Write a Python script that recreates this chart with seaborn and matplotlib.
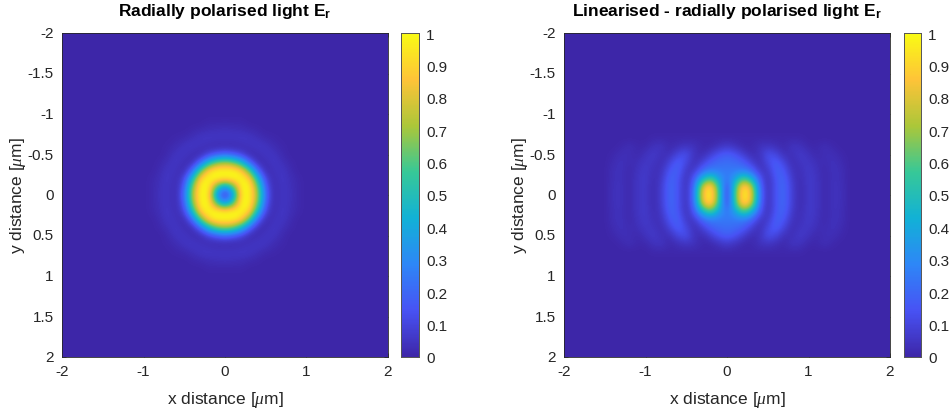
import numpy as np
import matplotlib
matplotlib.use("Agg")
import matplotlib.pyplot as plt
from matplotlib.colors import LinearSegmentedColormap
import seaborn as sns

titles = ["Radially polarised light E$_{\\mathbf{r}}$",
          "Linearised - radially polarised light E$_{\\mathbf{r}}$"]
xlabel = "x distance [$\\mu$m]"
ylabel = "y distance [$\\mu$m]"
x_ticks = [-2, -1, 0, 1, 2]
y_ticks = [-2, -1.5, -1, -0.5, 0, 0.5, 1, 1.5, 2]
x_labels = ["-2", "-1", "0", "1", "2"]
y_labels = ["-2", "-1.5", "-1", "-0.5", "0", "0.5", "1", "1.5", "2"]
c_ticks = [0, .1, .2, .3, .4, .5, .6, .7, .8, .9, 1]
c_labels = ["0", "0.1", "0.2", "0.3", "0.4", "0.5", "0.6", "0.7", "0.8", "0.9", "1"]
grid_step = 0.1

# One quadrant of each field (rows: y = 0, 0.1, ...; columns: x = 0, 0.1, ...)
radial_quadrant = [
    [.02, .30, .97, 1.0, .72, .20, .01, .055, .04, .01, 0, 0],
    [.30, .58, 1.0, 1.0, .66, .16, .01, .055, .035, .01, 0, 0],
    [.97, 1.0, 1.0, .92, .48, .09, .02, .06, .03, .01, 0, 0],
    [1.0, 1.0, .92, .62, .20, .01, .04, .055, .02, 0, 0, 0],
    [.72, .66, .48, .20, .02, .02, .06, .035, .01, 0, 0, 0],
    [.20, .16, .09, .01, .02, .055, .05, .015, 0, 0, 0, 0],
    [.01, .01, .02, .04, .06, .05, .02, .01, 0, 0, 0, 0],
    [.055, .055, .06, .055, .035, .015, .01, 0, 0, 0, 0, 0],
    [.04, .035, .03, .02, .01, 0, 0, 0, 0, 0, 0, 0],
    [.01, .01, .01, 0, 0, 0, 0, 0, 0, 0, 0, 0],
    [0, 0, 0, 0, 0, 0, 0, 0, 0, 0, 0, 0],
    [0, 0, 0, 0, 0, 0, 0, 0, 0, 0, 0, 0],
]
linear_quadrant = [
    [.02, .60, 1.0, .85, .25, .02, .15, .21, .08, .01, .07, .05, .01, .04, .035, 0],
    [.06, .55, .98, .80, .22, .02, .15, .21, .08, .01, .07, .05, .01, .04, .035, 0],
    [.22, .38, .62, .45, .17, .02, .16, .20, .06, .02, .07, .05, .01, .04, .03, 0],
    [.25, .25, .26, .21, .06, .05, .19, .16, .04, .03, .07, .04, .01, .04, .03, 0],
    [.22, .21, .18, .09, .02, .11, .19, .10, .02, .05, .06, .03, .02, .04, .02, 0],
    [.18, .15, .08, .02, .04, .14, .11, .03, .03, .07, .04, .01, .03, .03, .01, 0],
    [.07, .04, .01, .01, .04, .05, .03, .01, .05, .04, .01, .01, .03, .01, 0, 0],
    [.01, .01, .01, .01, .01, .01, .01, .01, .01, .01, 0, 0, 0, 0, 0, 0],
    [0, 0, 0, 0, 0, 0, 0, 0, 0, 0, 0, 0, 0, 0, 0, 0],
]
parula_colors = [(0.2422, 0.1504, 0.6603), (0.2810, 0.3228, 0.9579),
                 (0.1786, 0.5289, 0.9682), (0.0689, 0.6948, 0.8394),
                 (0.2161, 0.7843, 0.5923), (0.6720, 0.7793, 0.2227),
                 (0.9970, 0.7659, 0.2199), (0.9769, 0.9839, 0.0805)]

sns.set_theme(style="white")
plt.rcParams["font.family"] = ["Liberation Sans", "DejaVu Sans"]
plt.rcParams["mathtext.fontset"] = "custom"
plt.rcParams["mathtext.rm"] = "Liberation Sans"
plt.rcParams["mathtext.bf"] = "Liberation Sans:bold"
plt.rcParams["mathtext.it"] = "Liberation Serif:italic"

parula = LinearSegmentedColormap.from_list("parula", parula_colors, N=256)
W, H = 951, 410
TXT = "#262626"


def full_field(quadrant):
    q = np.asarray(quadrant, dtype=float)
    half = int(round(2 / grid_step)) + 1
    q = np.pad(q, ((0, half - q.shape[0]), (0, half - q.shape[1])))
    top = np.hstack([q[:, :0:-1], q])
    return np.vstack([top[:0:-1], top])


def box(x0, x1, y0, y1):
    return [x0 / W, (H - y1) / H, (x1 - x0) / W, (y1 - y0) / H]


def to_index(v):
    return (np.asarray(v) + 2) / grid_step + 0.5


fig = plt.figure(figsize=(W / 100, H / 100), dpi=100)
panels = [(radial_quadrant, 62, 388, 401, 419), (linear_quadrant, 564, 890, 904, 921)]
for (quad, a0, a1, c0, c1), title in zip(panels, titles):
    ax = fig.add_axes(box(a0, a1, 34, 358))
    cax = fig.add_axes(box(c0, c1, 34, 358))
    field = full_field(quad)
    sns.heatmap(field, ax=ax, cbar_ax=cax, cmap=parula, vmin=0, vmax=1,
                cbar_kws={"ticks": c_ticks}, rasterized=True)
    n = field.shape[0]
    ax.imshow(field, cmap=parula, vmin=0, vmax=1, extent=(0, n, n, 0),
              interpolation="bicubic", aspect="auto", zorder=2)
    ax.set_xlim(to_index(-2), to_index(2))
    ax.set_ylim(to_index(2), to_index(-2))
    ax.set_xticks(to_index(x_ticks), x_labels, rotation=0)
    ax.set_yticks(to_index(y_ticks), y_labels, rotation=0)
    ax.tick_params(axis="both", direction="in", length=3, width=0.5, color=TXT,
                   labelsize=11, labelcolor=TXT, top=True, right=True,
                   bottom=True, left=True)
    ax.tick_params(axis="x", pad=5)
    ax.tick_params(axis="y", pad=6)
    ax.set_xlabel(xlabel, fontsize=12.5, color=TXT, labelpad=8)
    ax.set_ylabel(ylabel, fontsize=12.5, color=TXT, labelpad=0)
    ax.set_title(title, fontsize=12.5, fontweight="bold", color="black", pad=13)
    for s in ax.spines.values():
        s.set_visible(True)
        s.set_linewidth(0.6)
        s.set_color(TXT)
        s.set_zorder(5)
    cax.set_yticks(c_ticks, c_labels)
    cax.tick_params(axis="y", direction="in", length=2, width=0.5, color=TXT,
                    labelsize=11, labelcolor=TXT, right=True, left=False, pad=5)
    for s in cax.spines.values():
        s.set_visible(True)
        s.set_linewidth(0.6)
        s.set_color("#555555")

fig.savefig("out.png", dpi=100)
